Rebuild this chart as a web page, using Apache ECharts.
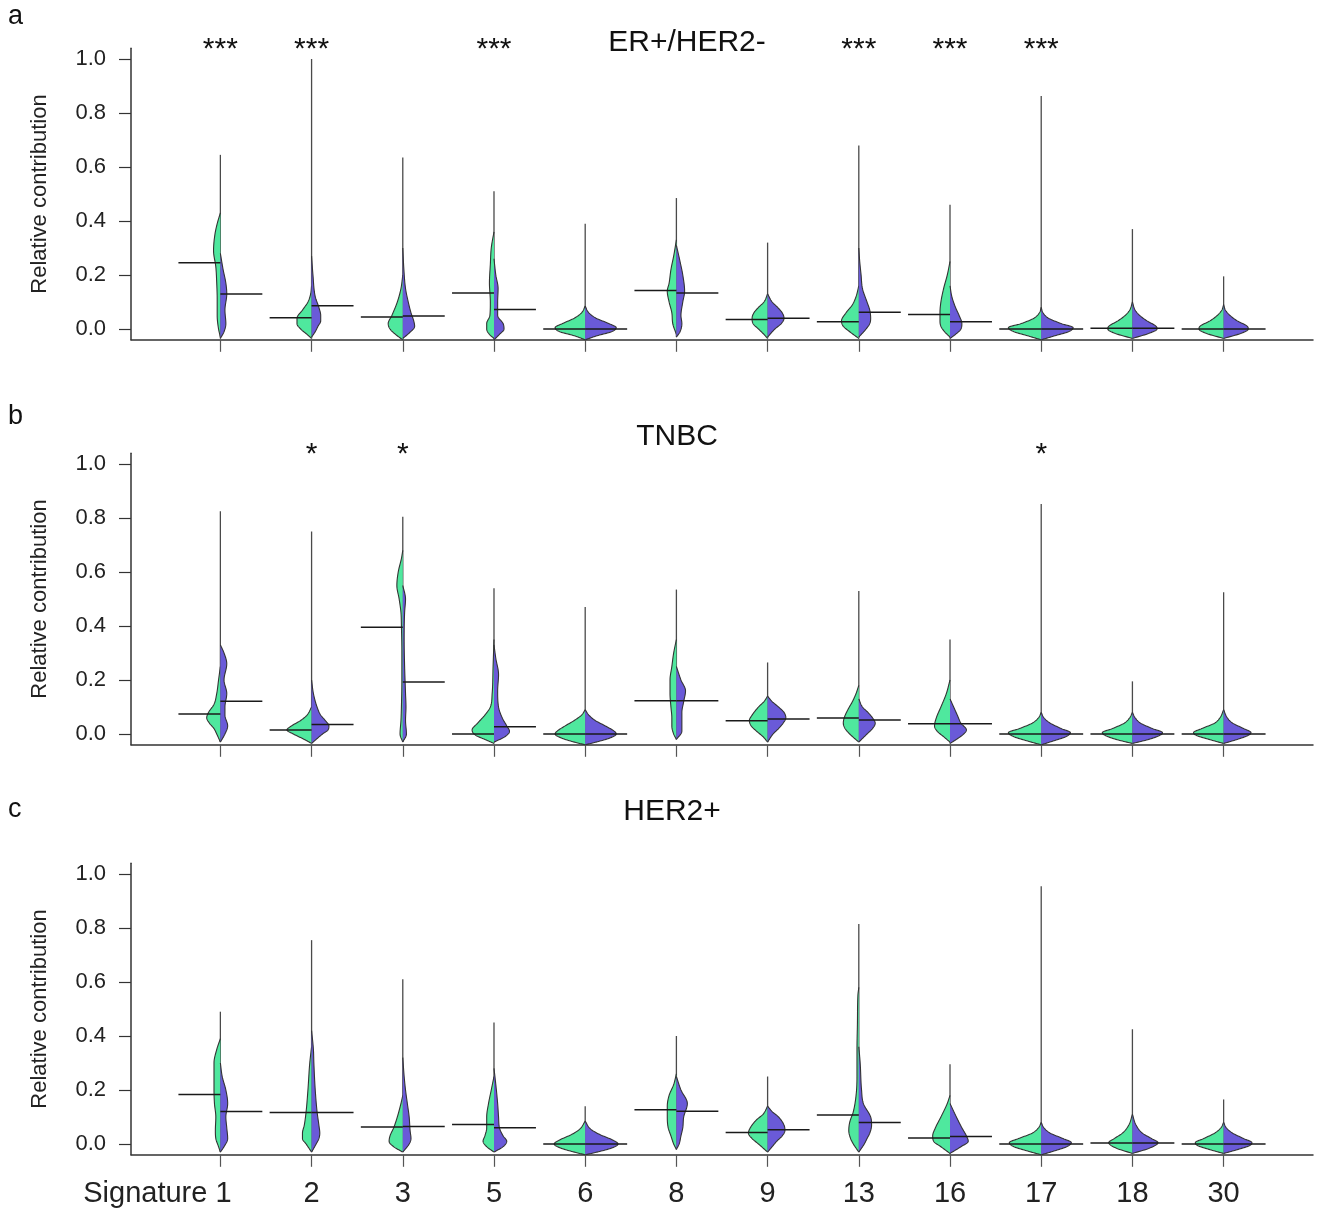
<!DOCTYPE html>
<html>
<head>
<meta charset="utf-8">
<script src="https://cdn.jsdelivr.net/npm/echarts@6/dist/echarts.min.js"></script>
<style>
html,body{margin:0;padding:0;background:#fff;}
#chart{width:1321px;height:1213px;}
</style>
</head>
<body>
<div id="chart"></div>
<script>
// ---------- categories & ticks ----------
const signatures = ['1','2','3','5','6','8','9','13','16','17','18','30'];
const yTickValues = [0, 0.2, 0.4, 0.6, 0.8, 1.0];
const panelTitles = ['ER+/HER2-', 'TNBC', 'HER2+'];
const panelLetters = ['a', 'b', 'c'];

// ---------- panel a: ER+/HER2- ----------
const erStars = ['***','***','','***','','','','***','***','***','',''];
const erMax = [0.645, 1.0, 0.635, 0.51, 0.39, 0.485, 0.32, 0.68, 0.46, 0.863, 0.37, 0.195];
const erMedianGreen = [0.245, 0.042, 0.044, 0.133, 0.0, 0.143, 0.035, 0.027, 0.054, 0.0, 0.003, 0.0];
const erMedianPurple = [0.13, 0.086, 0.048, 0.072, 0.0, 0.133, 0.04, 0.062, 0.027, 0.0, 0.003, 0.0];
// density profiles: [value, half-width in category units]
const erGreenDensity = [
  [[-0.03,0],[0.0,0.02],[0.05,0.035],[0.11,0.035],[0.17,0.04],[0.23,0.05],[0.29,0.075],[0.35,0.06],[0.39,0.035],[0.43,0]],
  [[-0.035,0],[-0.02,0.05],[0.0,0.12],[0.02,0.16],[0.04,0.16],[0.07,0.1],[0.1,0.04],[0.13,0.01],[0.16,0]],
  [[-0.04,0],[-0.02,0.08],[0.0,0.14],[0.02,0.16],[0.05,0.12],[0.1,0.06],[0.15,0.02],[0.2,0]],
  [[-0.035,0],[-0.02,0.05],[0.0,0.08],[0.02,0.08],[0.05,0.045],[0.1,0.04],[0.17,0.05],[0.24,0.04],[0.3,0.03],[0.36,0]],
  [[-0.04,0],[-0.025,0.12],[-0.01,0.28],[0.005,0.33],[0.02,0.25],[0.04,0.12],[0.06,0.04],[0.085,0]],
  [[-0.02,0],[0.02,0.04],[0.06,0.05],[0.1,0.08],[0.14,0.1],[0.17,0.08],[0.22,0.06],[0.27,0.03],[0.33,0]],
  [[-0.035,0],[-0.02,0.04],[0.0,0.1],[0.02,0.16],[0.04,0.17],[0.06,0.15],[0.08,0.1],[0.1,0.04],[0.13,0]],
  [[-0.035,0],[-0.01,0.1],[0.01,0.17],[0.03,0.19],[0.06,0.14],[0.09,0.07],[0.12,0.03],[0.16,0]],
  [[-0.03,0],[-0.01,0.06],[0.01,0.1],[0.03,0.11],[0.06,0.11],[0.1,0.1],[0.15,0.07],[0.2,0.03],[0.25,0]],
  [[-0.04,0],[-0.025,0.15],[-0.01,0.3],[0.005,0.36],[0.02,0.22],[0.04,0.08],[0.06,0.02],[0.08,0]],
  [[-0.035,0],[-0.015,0.2],[0.0,0.27],[0.01,0.26],[0.03,0.16],[0.05,0.08],[0.07,0.03],[0.1,0]],
  [[-0.035,0],[-0.015,0.2],[0.0,0.27],[0.01,0.26],[0.03,0.15],[0.05,0.07],[0.07,0.02],[0.09,0]]
];
const erPurpleDensity = [
  [[-0.035,0],[-0.01,0.04],[0.02,0.06],[0.07,0.05],[0.13,0.07],[0.17,0.06],[0.22,0.03],[0.28,0]],
  [[-0.03,0],[-0.01,0.04],[0.01,0.07],[0.03,0.1],[0.05,0.1],[0.08,0.08],[0.12,0.04],[0.2,0.015],[0.27,0]],
  [[-0.035,0],[-0.015,0.07],[0.01,0.13],[0.03,0.12],[0.06,0.09],[0.1,0.06],[0.15,0.03],[0.22,0.012],[0.3,0]],
  [[-0.04,0],[-0.02,0.06],[0.0,0.11],[0.02,0.1],[0.05,0.04],[0.1,0.04],[0.15,0.045],[0.2,0.02],[0.26,0]],
  [[-0.04,0],[-0.025,0.13],[-0.01,0.29],[0.005,0.34],[0.02,0.26],[0.04,0.12],[0.06,0.04],[0.085,0]],
  [[-0.03,0],[-0.01,0.04],[0.02,0.06],[0.05,0.05],[0.1,0.07],[0.14,0.09],[0.2,0.07],[0.25,0.04],[0.31,0]],
  [[-0.03,0],[0.0,0.08],[0.02,0.15],[0.04,0.18],[0.06,0.16],[0.08,0.11],[0.1,0.05],[0.13,0]],
  [[-0.03,0],[0.0,0.08],[0.02,0.12],[0.04,0.13],[0.07,0.12],[0.1,0.09],[0.15,0.04],[0.2,0.025],[0.25,0.01],[0.3,0]],
  [[-0.035,0],[-0.02,0.06],[0.0,0.12],[0.02,0.13],[0.05,0.1],[0.08,0.06],[0.12,0.02],[0.16,0]],
  [[-0.04,0],[-0.025,0.15],[-0.01,0.3],[0.005,0.35],[0.02,0.22],[0.04,0.08],[0.06,0.02],[0.08,0]],
  [[-0.035,0],[-0.015,0.19],[0.0,0.27],[0.01,0.26],[0.03,0.16],[0.05,0.08],[0.07,0.03],[0.1,0]],
  [[-0.035,0],[-0.015,0.2],[0.0,0.27],[0.01,0.26],[0.03,0.15],[0.05,0.07],[0.07,0.02],[0.09,0]]
];

// ---------- panel b: TNBC ----------
const tnStars = ['','*','*','','','','','','','*','',''];
const tnMax = [0.825, 0.75, 0.805, 0.54, 0.47, 0.535, 0.265, 0.53, 0.35, 0.852, 0.195, 0.525];
const tnMedianGreen = [0.074, 0.015, 0.395, 0.0, 0.0, 0.123, 0.049, 0.059, 0.038, 0.0, 0.0, 0.0];
const tnMedianPurple = [0.121, 0.035, 0.193, 0.027, 0.0, 0.123, 0.056, 0.052, 0.038, 0.0, 0.0, 0.0];
const tnGreenDensity = [
  [[-0.03,0],[0.0,0.04],[0.02,0.07],[0.04,0.12],[0.06,0.15],[0.08,0.13],[0.11,0.07],[0.15,0.04],[0.2,0.02],[0.25,0]],
  [[-0.035,0],[-0.02,0.08],[0.0,0.2],[0.015,0.27],[0.03,0.22],[0.05,0.12],[0.07,0.05],[0.1,0]],
  [[-0.03,0],[0.0,0.03],[0.05,0.02],[0.1,0.015],[0.2,0.01],[0.3,0.01],[0.4,0.015],[0.45,0.02],[0.5,0.04],[0.55,0.065],[0.6,0.05],[0.65,0.015],[0.68,0]],
  [[-0.035,0],[-0.02,0.1],[-0.005,0.2],[0.015,0.24],[0.04,0.18],[0.07,0.1],[0.1,0.04],[0.15,0.02],[0.25,0.01],[0.35,0]],
  [[-0.04,0],[-0.03,0.12],[-0.015,0.26],[0.0,0.33],[0.01,0.31],[0.03,0.22],[0.05,0.12],[0.07,0.04],[0.09,0]],
  [[-0.02,0],[0.0,0.03],[0.03,0.05],[0.06,0.05],[0.1,0.06],[0.15,0.07],[0.2,0.07],[0.25,0.05],[0.3,0.03],[0.35,0]],
  [[-0.03,0],[-0.01,0.05],[0.01,0.12],[0.03,0.18],[0.05,0.2],[0.07,0.17],[0.1,0.1],[0.12,0.04],[0.14,0]],
  [[-0.03,0],[0.0,0.1],[0.02,0.15],[0.04,0.17],[0.06,0.16],[0.09,0.12],[0.12,0.07],[0.15,0.03],[0.18,0]],
  [[-0.03,0],[-0.01,0.07],[0.01,0.14],[0.03,0.17],[0.06,0.15],[0.1,0.1],[0.15,0.04],[0.2,0]],
  [[-0.04,0],[-0.025,0.16],[-0.01,0.3],[0.005,0.36],[0.02,0.24],[0.04,0.1],[0.06,0.03],[0.08,0]],
  [[-0.035,0],[-0.02,0.18],[-0.005,0.3],[0.005,0.33],[0.02,0.22],[0.04,0.09],[0.06,0.03],[0.08,0]],
  [[-0.035,0],[-0.02,0.16],[-0.005,0.3],[0.005,0.33],[0.02,0.24],[0.04,0.1],[0.06,0.04],[0.09,0]]
];
const tnPurpleDensity = [
  [[-0.03,0],[0.0,0.05],[0.03,0.08],[0.07,0.05],[0.1,0.05],[0.15,0.07],[0.2,0.04],[0.26,0.07],[0.3,0.04],[0.33,0]],
  [[-0.035,0],[-0.02,0.05],[0.0,0.12],[0.015,0.18],[0.03,0.19],[0.05,0.15],[0.07,0.1],[0.1,0.06],[0.15,0.02],[0.2,0]],
  [[-0.03,0],[0.0,0.04],[0.05,0.03],[0.1,0.035],[0.15,0.03],[0.25,0.02],[0.35,0.015],[0.45,0.02],[0.5,0.03],[0.55,0]],
  [[-0.03,0],[-0.01,0.12],[0.01,0.17],[0.03,0.14],[0.06,0.09],[0.1,0.05],[0.16,0.04],[0.22,0.05],[0.28,0.02],[0.33,0]],
  [[-0.04,0],[-0.03,0.12],[-0.015,0.27],[0.0,0.34],[0.01,0.32],[0.03,0.22],[0.05,0.11],[0.07,0.04],[0.09,0]],
  [[-0.02,0],[0.01,0.06],[0.04,0.06],[0.08,0.06],[0.12,0.08],[0.16,0.1],[0.2,0.05],[0.25,0]],
  [[-0.03,0],[0.0,0.06],[0.02,0.12],[0.04,0.17],[0.06,0.2],[0.08,0.18],[0.1,0.12],[0.12,0.05],[0.14,0]],
  [[-0.03,0],[0.0,0.09],[0.02,0.15],[0.04,0.18],[0.06,0.15],[0.08,0.1],[0.1,0.04],[0.13,0]],
  [[-0.035,0],[-0.02,0.07],[0.0,0.15],[0.015,0.18],[0.04,0.12],[0.07,0.08],[0.1,0.04],[0.13,0]],
  [[-0.04,0],[-0.025,0.14],[-0.01,0.27],[0.005,0.32],[0.02,0.22],[0.04,0.1],[0.06,0.03],[0.08,0]],
  [[-0.035,0],[-0.02,0.18],[-0.005,0.3],[0.005,0.33],[0.02,0.22],[0.04,0.09],[0.06,0.03],[0.08,0]],
  [[-0.035,0],[-0.02,0.15],[-0.005,0.27],[0.005,0.3],[0.02,0.22],[0.04,0.1],[0.06,0.04],[0.09,0]]
];

// ---------- panel c: HER2+ ----------
const heStars = ['','','','','','','','','','','',''];
const heMax = [0.49, 0.755, 0.61, 0.45, 0.14, 0.4, 0.25, 0.815, 0.295, 0.955, 0.425, 0.165];
const heMedianGreen = [0.183, 0.117, 0.063, 0.072, 0.0, 0.127, 0.043, 0.107, 0.022, 0.0, 0.004, 0.0];
const heMedianPurple = [0.12, 0.117, 0.065, 0.06, 0.0, 0.121, 0.053, 0.08, 0.028, 0.0, 0.004, 0.0];
const heGreenDensity = [
  [[-0.03,0],[-0.01,0.02],[0.02,0.05],[0.05,0.055],[0.1,0.05],[0.15,0.065],[0.2,0.07],[0.25,0.07],[0.3,0.07],[0.35,0.04],[0.39,0]],
  [[-0.03,0],[0.0,0.06],[0.02,0.1],[0.04,0.1],[0.07,0.08],[0.12,0.06],[0.2,0.04],[0.3,0.02],[0.36,0]],
  [[-0.03,0],[-0.01,0.1],[0.01,0.15],[0.03,0.14],[0.06,0.1],[0.1,0.06],[0.15,0.02],[0.18,0]],
  [[-0.03,0],[-0.01,0.08],[0.01,0.12],[0.03,0.1],[0.06,0.08],[0.1,0.08],[0.15,0.06],[0.2,0.03],[0.25,0]],
  [[-0.04,0],[-0.03,0.12],[-0.015,0.27],[0.0,0.34],[0.015,0.28],[0.035,0.15],[0.055,0.06],[0.085,0]],
  [[-0.02,0],[0.0,0.03],[0.03,0.06],[0.06,0.09],[0.1,0.1],[0.14,0.1],[0.18,0.08],[0.22,0.03],[0.26,0]],
  [[-0.03,0],[0.0,0.1],[0.02,0.17],[0.04,0.21],[0.06,0.19],[0.09,0.12],[0.11,0.05],[0.14,0]],
  [[-0.03,0],[0.0,0.06],[0.02,0.09],[0.05,0.11],[0.08,0.1],[0.12,0.06],[0.18,0.03],[0.25,0.02],[0.35,0.02],[0.45,0.015],[0.55,0.01],[0.58,0]],
  [[-0.035,0],[-0.01,0.1],[0.01,0.18],[0.03,0.19],[0.06,0.16],[0.1,0.1],[0.15,0.03],[0.18,0]],
  [[-0.04,0],[-0.025,0.16],[-0.01,0.3],[0.005,0.35],[0.02,0.25],[0.04,0.1],[0.06,0.03],[0.08,0]],
  [[-0.035,0],[-0.015,0.18],[0.005,0.26],[0.02,0.2],[0.04,0.11],[0.07,0.04],[0.11,0]],
  [[-0.035,0],[-0.02,0.16],[-0.005,0.29],[0.005,0.31],[0.02,0.22],[0.04,0.1],[0.06,0.03],[0.08,0]]
];
const hePurpleDensity = [
  [[-0.03,0],[-0.01,0.04],[0.02,0.08],[0.06,0.07],[0.1,0.06],[0.15,0.08],[0.2,0.06],[0.25,0.02],[0.3,0]],
  [[-0.03,0],[0.0,0.05],[0.02,0.08],[0.04,0.09],[0.07,0.08],[0.12,0.06],[0.2,0.04],[0.3,0.025],[0.35,0.02],[0.42,0]],
  [[-0.03,0],[0.0,0.07],[0.02,0.09],[0.05,0.08],[0.1,0.07],[0.15,0.05],[0.2,0.03],[0.25,0.015],[0.32,0]],
  [[-0.03,0],[-0.01,0.1],[0.01,0.14],[0.03,0.1],[0.06,0.06],[0.1,0.05],[0.15,0.04],[0.22,0.02],[0.28,0]],
  [[-0.04,0],[-0.03,0.13],[-0.015,0.29],[0.0,0.36],[0.015,0.3],[0.035,0.16],[0.055,0.06],[0.085,0]],
  [[-0.02,0],[0.0,0.03],[0.03,0.05],[0.06,0.07],[0.1,0.08],[0.15,0.12],[0.2,0.05],[0.25,0]],
  [[-0.03,0],[-0.01,0.05],[0.01,0.1],[0.03,0.16],[0.05,0.19],[0.07,0.18],[0.1,0.12],[0.12,0.05],[0.14,0]],
  [[-0.03,0],[0.0,0.06],[0.02,0.09],[0.04,0.12],[0.07,0.14],[0.1,0.13],[0.15,0.05],[0.2,0.03],[0.3,0.015],[0.36,0]],
  [[-0.035,0],[-0.01,0.12],[0.01,0.2],[0.03,0.18],[0.06,0.13],[0.1,0.07],[0.15,0]],
  [[-0.04,0],[-0.025,0.15],[-0.01,0.28],[0.005,0.33],[0.02,0.24],[0.04,0.1],[0.06,0.03],[0.08,0]],
  [[-0.035,0],[-0.015,0.19],[0.005,0.28],[0.02,0.21],[0.04,0.11],[0.07,0.04],[0.11,0]],
  [[-0.035,0],[-0.02,0.16],[-0.005,0.29],[0.005,0.31],[0.02,0.22],[0.04,0.1],[0.06,0.03],[0.08,0]]
];

// ---------- styling ----------
const GREEN = '#4fe89e';
const PURPLE = '#6a5ad8';
const OUTLINE = '#333333';
const AXIS = '#333333';
const FONT = '"Liberation Sans", Arial, Helvetica, sans-serif';
const MEDIAN_HALF = 0.46;

const panels = [
  {stars: erStars, max: erMax, medG: erMedianGreen, medP: erMedianPurple, green: erGreenDensity, purple: erPurpleDensity},
  {stars: tnStars, max: tnMax, medG: tnMedianGreen, medP: tnMedianPurple, green: tnGreenDensity, purple: tnPurpleDensity},
  {stars: heStars, max: heMax, medG: heMedianGreen, medP: heMedianPurple, green: heGreenDensity, purple: hePurpleDensity}
];

// monotone cubic smoothing of a density profile
function smoothHalf(knots, steps) {
  const n = knots.length;
  const xs = knots.map(k => k[0]), ys = knots.map(k => k[1]);
  const d = [], m = [];
  for (let i = 0; i < n - 1; i++) d[i] = (ys[i + 1] - ys[i]) / (xs[i + 1] - xs[i]);
  m[0] = d[0]; m[n - 1] = d[n - 2];
  for (let i = 1; i < n - 1; i++) m[i] = (d[i - 1] * d[i] <= 0) ? 0 : (d[i - 1] + d[i]) / 2;
  for (let i = 0; i < n - 1; i++) {
    if (d[i] === 0) { m[i] = 0; m[i + 1] = 0; continue; }
    const a = m[i] / d[i], b = m[i + 1] / d[i];
    const s = a * a + b * b;
    if (s > 9) { const t = 3 / Math.sqrt(s); m[i] = t * a * d[i]; m[i + 1] = t * b * d[i]; }
  }
  const out = [];
  for (let i = 0; i < n - 1; i++) {
    const h = xs[i + 1] - xs[i];
    for (let j = 0; j < steps; j++) {
      const t = j / steps, t2 = t * t, t3 = t2 * t;
      const w = (2 * t3 - 3 * t2 + 1) * ys[i] + (t3 - 2 * t2 + t) * h * m[i] +
                (-2 * t3 + 3 * t2) * ys[i + 1] + (t3 - t2) * h * m[i + 1];
      out.push([xs[i] + t * h, Math.max(0, w)]);
    }
  }
  out.push([xs[n - 1], ys[n - 1]]);
  return out;
}

function makeRender(p) {
  return function (params, api) {
    const k = params.dataIndex;
    const x = api.value(0);
    const children = [];
    const lowest = Math.min(p.green[k][0][0], p.purple[k][0][0]);
    const top = api.coord([x, p.max[k]]);
    const bot = api.coord([x, lowest]);
    children.push({type: 'line', shape: {x1: top[0], y1: top[1], x2: bot[0], y2: bot[1]},
      style: {stroke: '#4a4a4a', lineWidth: 1.3}});
    [[p.green[k], -1, GREEN], [p.purple[k], 1, PURPLE]].forEach(function (h) {
      const pts = smoothHalf(h[0], 12).map(function (s) { return api.coord([x + h[1] * s[1], s[0]]); });
      children.push({type: 'polygon', shape: {points: pts}, style: {fill: h[2], stroke: null}});
      children.push({type: 'polyline', shape: {points: pts}, style: {stroke: OUTLINE, lineWidth: 1.1, fill: null}});
    });
    const g1 = api.coord([x - MEDIAN_HALF, p.medG[k]]), g2 = api.coord([x, p.medG[k]]);
    const q1 = api.coord([x, p.medP[k]]), q2 = api.coord([x + MEDIAN_HALF, p.medP[k]]);
    children.push({type: 'line', shape: {x1: g1[0], y1: g1[1], x2: g2[0], y2: g2[1]}, style: {stroke: '#1a1a1a', lineWidth: 1.5}});
    children.push({type: 'line', shape: {x1: q1[0], y1: q1[1], x2: q2[0], y2: q2[1]}, style: {stroke: '#1a1a1a', lineWidth: 1.5}});
    if (p.stars[k]) {
      const s = api.coord([x, 1.0]);
      children.push({type: 'text', x: s[0], y: s[1] - 9,
        style: {text: p.stars[k], fill: '#111', font: '30px ' + FONT, align: 'center', verticalAlign: 'middle'}});
    }
    return {type: 'group', children: children};
  };
}

const gridDefs = [
  {left: 131, right: 8, top: 48.2, bottom: 873.2},
  {left: 131, right: 8, top: 453.2, bottom: 468.2},
  {left: 131, right: 8, top: 863.2, bottom: 58.2}
];
const catTicks = signatures.map((s, i) => i + 1);

const LABEL_SIZE = 29;
const measure = document.createElement('canvas').getContext('2d');
measure.font = LABEL_SIZE + 'px ' + FONT;
const sigPad = Math.round(measure.measureText('Signature ').width);

const option = {
  animation: false,
  backgroundColor: '#ffffff',
  grid: gridDefs,
  xAxis: gridDefs.map((g, i) => ({
    type: 'value', gridIndex: i, min: 0.02, max: 12.98,
    splitLine: {show: false},
    axisLine: {show: true, onZero: false, lineStyle: {color: AXIS, width: 1.5}},
    axisTick: {show: true, customValues: catTicks, length: 12, lineStyle: {color: '#555', width: 1.2}},
    axisLabel: {
      show: i === 2, customValues: catTicks, margin: 25, fontSize: LABEL_SIZE, color: '#222', fontFamily: FONT,
      formatter: function (v) {
        const idx = Math.round(v) - 1;
        if (idx === 0) return '{first|Signature ' + signatures[0] + '}';
        return signatures[idx];
      },
      rich: {first: {fontSize: LABEL_SIZE, color: '#222', fontFamily: FONT, padding: [0, sigPad - 6, 0, 0]}}
    }
  })),
  yAxis: gridDefs.map((g, i) => ({
    type: 'value', gridIndex: i, min: -0.04, max: 1.04,
    splitLine: {show: false},
    name: 'Relative contribution', nameLocation: 'middle', nameGap: 80,
    nameTextStyle: {fontSize: 22, color: '#222', fontFamily: FONT},
    axisLine: {show: true, onZero: false, lineStyle: {color: AXIS, width: 1.5}},
    axisTick: {show: true, customValues: yTickValues, length: 12, lineStyle: {color: AXIS, width: 1.2}},
    axisLabel: {customValues: yTickValues, margin: 25, fontSize: 22, color: '#222', fontFamily: FONT,
      formatter: function (v) { return v.toFixed(1); }}
  })),
  graphic: [
    {type: 'text', x: 8, y: 17, style: {text: panelLetters[0], font: '27px ' + FONT, fill: '#111', verticalAlign: 'middle'}},
    {type: 'text', x: 8, y: 417, style: {text: panelLetters[1], font: '27px ' + FONT, fill: '#111', verticalAlign: 'middle'}},
    {type: 'text', x: 8, y: 810, style: {text: panelLetters[2], font: '27px ' + FONT, fill: '#111', verticalAlign: 'middle'}},
    {type: 'text', x: 687, y: 43, style: {text: panelTitles[0], font: '30px ' + FONT, fill: '#111', align: 'center', verticalAlign: 'middle'}},
    {type: 'text', x: 677, y: 437, style: {text: panelTitles[1], font: '30px ' + FONT, fill: '#111', align: 'center', verticalAlign: 'middle'}},
    {type: 'text', x: 672, y: 812, style: {text: panelTitles[2], font: '30px ' + FONT, fill: '#111', align: 'center', verticalAlign: 'middle'}}
  ],
  series: panels.map((p, i) => ({
    type: 'custom', xAxisIndex: i, yAxisIndex: i, clip: false,
    renderItem: makeRender(p),
    encode: {x: 0, y: 1},
    data: p.max.map((m, k) => [k + 1, m])
  }))
};

const chart = echarts.init(document.getElementById('chart'), null, {renderer: 'canvas'});
chart.setOption(option);
</script>
</body>
</html>
